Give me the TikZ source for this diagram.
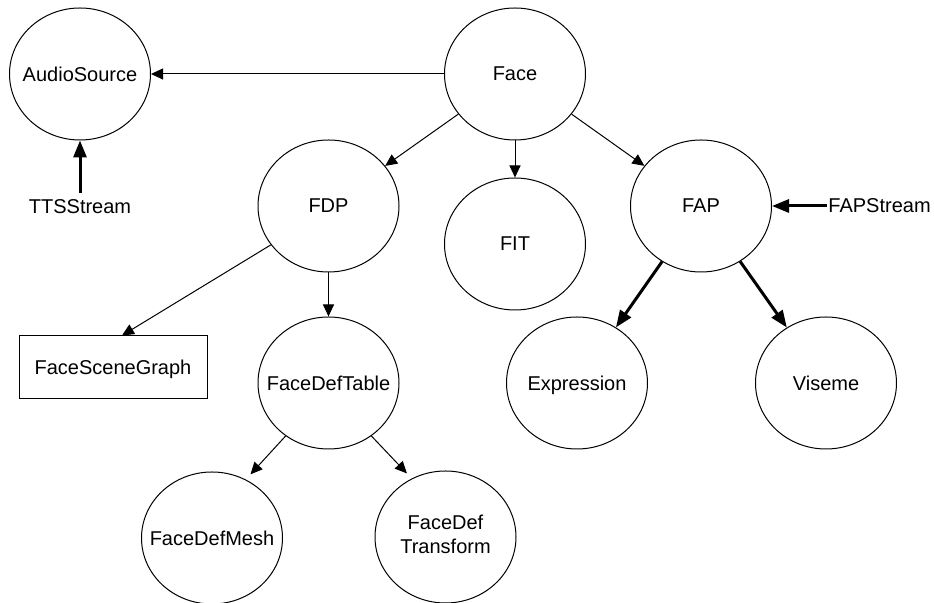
\documentclass[tikz,border=0pt]{standalone}
\usepackage{fontspec}
\setmainfont{Liberation Sans}
\usetikzlibrary{shapes.geometric,arrows.meta}
\newcommand{\nodetext}[1]{\makebox[0pt]{#1}}

\begin{document}
\begin{tikzpicture}[x=0.5pt, y=-0.5pt,
  every node/.style={font=\fontsize{10}{12}\selectfont},
  bubble/.style={draw, ellipse, line width=0.5pt, minimum width=70.5pt, minimum height=66pt, inner sep=0pt},
  panel/.style={draw, rectangle, line width=0.5pt, minimum width=94pt, minimum height=31.5pt, inner sep=0pt},
  link/.style={line width=0.5pt, -{Triangle[length=6pt, width=5.5pt]}},
  feed/.style={line width=1.5pt, -{Triangle[length=8.5pt, width=6.5pt]}}]
\useasboundingbox (0,0) rectangle (934,603);

% Top level
\node[bubble] (face) at (515,74) {Face};
\node[bubble] (audio) at (80,74) {\nodetext{AudioSource}};
\node (tts) at (80,207) {TTSStream};

% Face parts
\node[bubble] (fdp) at (328.5,206) {FDP};
\node[bubble] (fit) at (515,244) {FIT};
\node[bubble] (fap) at (701,206) {FAP};
\node[anchor=west, inner xsep=0.5pt] (fapstream) at (827,206) {FAPStream};

% FDP children
\node[panel, text depth=0pt] (fsg) at (113,367.5) {FaceSceneGraph};
\node[bubble] (fdt) at (328.5,383) {\nodetext{FaceDefTable}};
\node[bubble] (fdm) at (212,538) {\nodetext{FaceDefMesh}};
\node[bubble] (fdtr) at (445.5,537) {\nodetext{\begin{tabular}{@{}c@{}}FaceDef\\Transform\end{tabular}}};

% FAP children
\node[bubble, text depth=0pt] (expr) at (577,383) {Expression};
\node[bubble] (vis) at (826,383) {Viseme};

% Thin links
\draw[link] (face) -- (audio);
\draw[link] (face) -- (fdp);
\draw[link] (face) -- (fit);
\draw[link] (face) -- (fap);
\draw[link] (fdp.214) -- ([xshift=4.5pt]fsg.north);
\draw[link] (fdp) -- (fdt);
\draw[link, shorten >=3.5pt] (fdt.231) -- (fdm.60);
\draw[link, shorten >=3.5pt] (fdt.309) -- (fdtr.120);

% Streams and FAP feeds
\draw[feed] (tts) -- (audio);
\draw[feed] (fapstream) -- (fap);
\draw[feed] (fap) -- (expr);
\draw[feed] (fap) -- (vis);
\end{tikzpicture}
\end{document}
